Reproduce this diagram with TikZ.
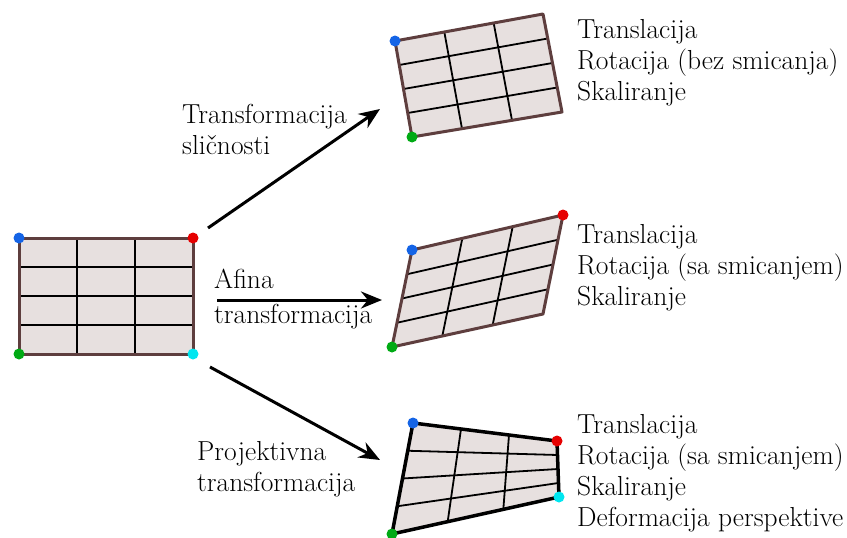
\documentclass[tikz,border=0pt]{standalone}
\usepackage{fontspec}
\usepackage{tikz}
\usetikzlibrary{calc,arrows.meta}

\definecolor{tileFill}{RGB}{231,224,223}
\definecolor{tileEdge}{RGB}{94,62,62}
\definecolor{dotBlue}{RGB}{20,100,230}
\definecolor{dotRed}{RGB}{230,0,0}
\definecolor{dotGreen}{RGB}{0,170,20}
\definecolor{dotCyan}{RGB}{0,230,240}

\tikzset{
	gridline/.style={black, line width=1.8},
	tileborder/.style={draw=tileEdge, line width=3, line join=round},
	projborder/.style={draw=black, line width=3.5, line join=round},
	trafoarrow/.style={-{Stealth[length=21pt, width=17pt]}, line width=3},
	label/.style={font=\fontsize{27.5}{31}\selectfont, inner sep=0pt, align=left, anchor=north west},
	corner/.style={radius=5.5}
}

% #1 TL, #2 TR, #3 BR, #4 BL, #5 border style
\newcommand{\gridtile}[5]{%
	\fill[tileFill] (#1) -- (#2) -- (#3) -- (#4) -- cycle;
	\foreach \i in {1,2}
		\draw[gridline] ($(#1)!\i/3!(#2)$) -- ($(#4)!\i/3!(#3)$);
	\foreach \j in {1,2,3}
		\draw[gridline] ($(#1)!\j/4!(#4)$) -- ($(#2)!\j/4!(#3)$);
	\draw[#5] (#1) -- (#2) -- (#3) -- (#4) -- cycle;
}

\begin{document}
\begin{tikzpicture}[x=1pt, y=-1pt]
	\useasboundingbox (0, 0) rectangle (847, 538);

	% Corners of the four tiles:
	\coordinate (orgTL) at (19, 238);
	\coordinate (orgTR) at (193, 238);
	\coordinate (orgBR) at (193, 354);
	\coordinate (orgBL) at (19, 354);
	\coordinate (simTL) at (395, 41);
	\coordinate (simTR) at (543, 14);
	\coordinate (simBR) at (562, 112);
	\coordinate (simBL) at (412, 137);
	\coordinate (afTL) at (412, 250);
	\coordinate (afTR) at (563, 215);
	\coordinate (afBR) at (543, 314);
	\coordinate (afBL) at (392, 347);
	\coordinate (prTL) at (413, 423);
	\coordinate (prTR) at (557, 441);
	\coordinate (prBR) at (559, 497);
	\coordinate (prBL) at (392, 534);

	% Tiles:
	\gridtile{orgTL}{orgTR}{orgBR}{orgBL}{tileborder}
	\gridtile{simTL}{simTR}{simBR}{simBL}{tileborder}
	\gridtile{afTL}{afTR}{afBR}{afBL}{tileborder}
	\gridtile{prTL}{prTR}{prBR}{prBL}{projborder}

	% Corner dots:
	\fill[dotBlue] (orgTL) circle[corner];
	\fill[dotRed] (orgTR) circle[corner];
	\fill[dotCyan] (orgBR) circle[corner];
	\fill[dotGreen] (orgBL) circle[corner];
	\fill[dotBlue] (simTL) circle[corner];
	\fill[dotGreen] (simBL) circle[corner];
	\fill[dotBlue] (afTL) circle[corner];
	\fill[dotRed] (afTR) circle[corner];
	\fill[dotGreen] (afBL) circle[corner];
	\fill[dotBlue] (prTL) circle[corner];
	\fill[dotRed] (prTR) circle[corner];
	\fill[dotCyan] (prBR) circle[corner];
	\fill[dotGreen] (prBL) circle[corner];

	% Arrows:
	\coordinate (simStart) at (208, 228);
	\coordinate (simEnd) at (380, 109);
	\coordinate (afStart) at (217, 300);
	\coordinate (afEnd) at (382, 300);
	\coordinate (prStart) at (210, 367);
	\coordinate (prEnd) at (380, 460);
	\draw[trafoarrow] (simStart) -- (simEnd);
	\draw[trafoarrow] (afStart) -- (afEnd);
	\draw[trafoarrow] (prStart) -- (prEnd);

	% Labels:
	\node[label] (simName) at (182, 103.6) {Transformacija\\sličnosti};
	\node[label] (afNameA) at (214, 268.6) {Afina};
	\node[label] (afNameB) at (214, 303.6) {transformacija};
	\node[label] (prName) at (197, 440.9) {Projektivna\\transformacija};
	\node[label] (simProps) at (577, 18.9) {Translacija\\Rotacija (bez smicanja)\\Skaliranje};
	\node[label] (afProps) at (577, 223.9) {Translacija\\Rotacija (sa smicanjem)\\Skaliranje};
	\node[label] (prProps) at (577, 413.9) {Translacija\\Rotacija (sa smicanjem)\\Skaliranje\\Deformacija perspektive};
\end{tikzpicture}
\end{document}
